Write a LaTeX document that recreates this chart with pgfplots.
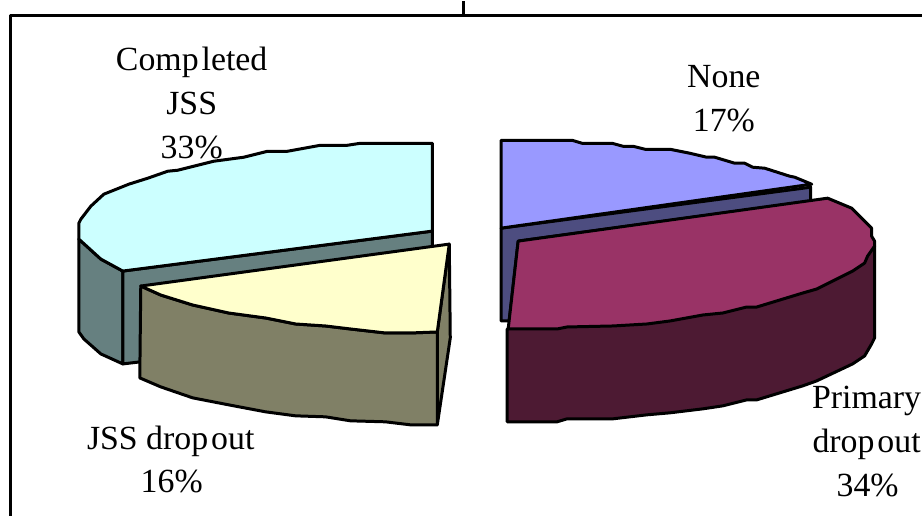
\documentclass[border=0pt]{standalone}
\usepackage{pgfplots}
\pgfplotsset{compat=1.18}
\usepackage{fontspec}
\setmainfont{Liberation Serif}
\definecolor{cyantop}{HTML}{CCFFFF}
\definecolor{cyanside}{HTML}{668080}
\definecolor{yellowtop}{HTML}{FFFFCC}
\definecolor{yellowside}{HTML}{808066}
\definecolor{bluetop}{HTML}{9999FF}
\definecolor{blueside}{HTML}{4D4D80}
\definecolor{wine}{HTML}{993366}
\definecolor{wineside}{HTML}{4D1A33}
\newcommand{\lab}[3]{\node[anchor=base,inner sep=0pt] at (axis cs:#1,#2) {\fontsize{34}{34}\selectfont #3};}
\tikzset{pieline/.style={line width=3bp, line join=round, draw=black}}
\begin{document}
\begin{tikzpicture}
\begin{axis}[
  scale only axis, width=923bp, height=515bp,
  xmin=-1, xmax=922, ymin=0, ymax=515, y dir=reverse,
  hide axis, clip=false,
]
\path (axis cs:-1,0) rectangle (axis cs:922,515);
% frame of the chart area and the stub above it
\addplot[pieline, no marks] coordinates {(10,515) (10,14.5) (922,14.5)};
\addplot[pieline, no marks] coordinates {(463.5,0) (463.5,14)};

% None: 17%
\addplot[pieline, fill=blueside] coordinates {(501,227) (811,186) (811,200) (518,240) (509,320) (501,320)} -- cycle;
\addplot[pieline, fill=bluetop] coordinates {(501,139) (572,139) (582,142) (612,142) (623,145) (633,145) (645,148) (670,148) (690,152) (707,156) (715,156) (735,162) (745,162) (753,166) (765,167) (790,175) (795,176) (812,183) (501,227)} -- cycle;

% Primary dropout: 34%
\addplot[pieline, fill=wineside] coordinates {(875,245) (875,337) (872,343) (865,355) (853,363) (817,380) (803,385) (757,399) (747,399) (723,405) (703,408) (670,412) (647,414) (613,418) (567,418) (557,421) (507,421) (507,328) (875,245)} -- cycle;
\addplot[pieline, fill=wine] coordinates {(518,240) (828,197) (852,207) (872,227) (872,235) (875,240) (875,245) (868,255) (865,262) (853,270) (823,285) (817,288) (803,292) (757,306) (747,306) (723,312) (703,314) (670,320) (647,323) (613,325) (567,326) (557,328) (508,328)} -- cycle;

% Completed JSS: 33%
\addplot[pieline, fill=cyanside] coordinates {(78,238) (78,331) (83,338) (100,353) (122,363) (122,270) (100,258)} -- cycle;
\addplot[pieline, fill=cyanside] coordinates {(122,270) (432,230) (432,330) (139,361) (122,363)} -- cycle;
\addplot[pieline, fill=cyantop] coordinates {(432,142) (360,142) (347,144) (320,144) (287,150) (267,150) (243,156) (213,160) (177,169) (167,170) (147,177) (128,183) (103,193) (90,205) (80,218) (78,222) (78,238) (100,258) (122,270) (432,230)} -- cycle;

% JSS dropout: 16%
\addplot[pieline, fill=yellowside] coordinates {(449,243) (450,337) (437,424) (437,331)} -- cycle;
\addplot[pieline, fill=yellowside] coordinates {(140,285) (160,294) (192,304) (228,312) (265,317) (295,323) (325,325) (350,328) (385,332) (410,332) (437,331) (437,424) (410,424) (385,421) (350,420) (325,416) (295,415) (265,411) (228,404) (192,397) (160,386) (139,377)} -- cycle;
\addplot[pieline, fill=yellowtop] coordinates {(449,243) (140,285) (160,294) (192,304) (228,312) (265,317) (295,323) (325,325) (350,328) (385,332) (410,332) (437,331)} -- cycle;

% data labels
\lab{191}{69}{Comp\kern3bp leted}
\lab{191}{113}{JSS}
\lab{191}{157}{33\%}
\lab{724}{86}{None}
\lab{724}{130}{17\%}
\lab{867}{408}{Primary}
\lab{867}{452}{drop\kern3bp out}
\lab{868}{496}{34\%}
\lab{170}{449}{JSS drop\kern3bp out}
\lab{171}{492}{16\%}
\end{axis}
\end{tikzpicture}
\end{document}
